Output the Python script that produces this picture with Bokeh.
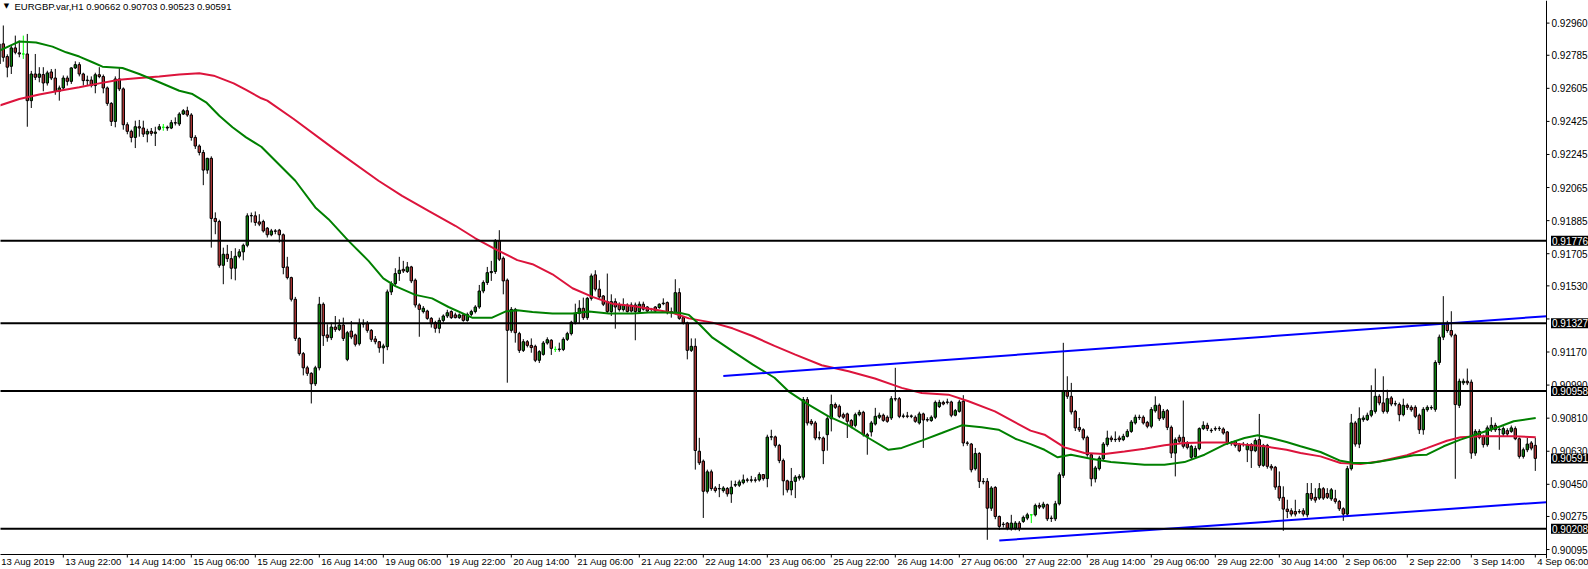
from bokeh.plotting import figure
from bokeh.models import Range1d, FixedTicker, Span, Label
from bokeh.embed import file_html
from bokeh.resources import INLINE

symbol_title = "EURGBP.var,H1  0.90662 0.90703 0.90523 0.90591"

open_ = [
0.92738,0.92847,0.92778,0.92725,0.92825,0.92798,0.92792,0.92792,0.92538,0.92683,
0.92665,0.92680,0.92634,0.92694,0.92661,0.92589,0.92607,0.92661,0.92643,0.92716,
0.92734,0.92683,0.92647,0.92650,0.92620,0.92679,0.92669,0.92607,0.92523,0.92425,
0.92656,0.92602,0.92407,0.92371,0.92338,0.92396,0.92389,0.92356,0.92371,0.92360,
0.92382,0.92393,0.92393,0.92389,0.92418,0.92411,0.92465,0.92483,0.92460,0.92338,
0.92291,0.92256,0.92160,0.92224,0.91897,0.91880,0.91642,0.91702,0.91678,0.91626,
0.91691,0.91715,0.91751,0.91911,0.91911,0.91878,0.91880,0.91844,0.91808,0.91829,
0.91833,0.91808,0.91633,0.91575,0.91457,0.91244,0.91161,0.91084,0.91054,0.90997,
0.91084,0.91430,0.91263,0.91248,0.91306,0.91293,0.91317,0.91130,0.91284,0.91263,
0.91215,0.91324,0.91324,0.91288,0.91241,0.91226,0.91193,0.91199,0.91497,0.91542,
0.91597,0.91620,0.91608,0.91633,0.91561,0.91426,0.91390,0.91393,0.91353,0.91330,
0.91299,0.91342,0.91366,0.91390,0.91372,0.91357,0.91372,0.91342,0.91375,0.91390,
0.91415,0.91502,0.91548,0.91602,0.91608,0.91775,0.91680,0.91561,0.91288,0.91402,
0.91270,0.91179,0.91226,0.91206,0.91201,0.91125,0.91157,0.91219,0.91234,0.91184,
0.91184,0.91184,0.91239,0.91270,0.91332,0.91379,0.91408,0.91357,0.91462,0.91590,
0.91512,0.91475,0.91444,0.91390,0.91444,0.91426,0.91401,0.91426,0.91426,0.91426,
0.91390,0.91430,0.91415,0.91403,0.91415,0.91412,0.91433,0.91439,0.91384,0.91384,
0.91493,0.91357,0.91328,0.91179,0.91201,0.90630,0.90576,0.90412,0.90518,0.90430,
0.90427,0.90416,0.90427,0.90398,0.90445,0.90445,0.90459,0.90474,0.90472,0.90474,
0.90474,0.90503,0.90481,0.90707,0.90708,0.90662,0.90579,0.90469,0.90420,0.90466,
0.90484,0.90489,0.90911,0.90793,0.90784,0.90702,0.90702,0.90720,0.90807,0.90884,
0.90875,0.90829,0.90833,0.90797,0.90771,0.90829,0.90842,0.90720,0.90735,0.90778,
0.90815,0.90826,0.90815,0.90811,0.90916,0.90916,0.90820,0.90822,0.90820,0.90815,
0.90784,0.90833,0.90802,0.90797,0.90815,0.90873,0.90896,0.90898,0.90898,0.90826,
0.90847,0.90902,0.90675,0.90669,0.90535,0.90618,0.90466,0.90466,0.90320,0.90433,
0.90275,0.90233,0.90239,0.90208,0.90211,0.90239,0.90248,0.90266,0.90284,0.90284,
0.90335,0.90326,0.90339,0.90266,0.90262,0.90344,0.90499,0.90956,0.90929,0.90847,
0.90760,0.90747,0.90706,0.90611,0.90480,0.90535,0.90589,0.90666,0.90702,0.90693,
0.90702,0.90693,0.90711,0.90738,0.90784,0.90815,0.90815,0.90787,0.90766,0.90850,
0.90880,0.90811,0.90851,0.90760,0.90620,0.90706,0.90706,0.90675,0.90597,0.90601,
0.90644,0.90753,0.90771,0.90742,0.90753,0.90753,0.90751,0.90735,0.90675,0.90684,
0.90666,0.90666,0.90638,0.90666,0.90633,0.90693,0.90553,0.90662,0.90548,0.90543,
0.90439,0.90379,0.90315,0.90306,0.90302,0.90302,0.90306,0.90284,0.90400,0.90379,
0.90375,0.90426,0.90400,0.90371,0.90371,0.90357,0.90317,0.90288,0.90535,0.90784,
0.90669,0.90802,0.90802,0.90826,0.90847,0.90929,0.90893,0.90847,0.90920,0.90887,
0.90884,0.90829,0.90880,0.90869,0.90869,0.90826,0.90747,0.90856,0.90866,0.90858,
0.91113,0.91251,0.91323,0.91287,0.91262,0.90880,0.91002,0.91011,0.91006,0.90620,
0.90738,0.90711,0.90666,0.90747,0.90771,0.90747,0.90724,0.90742,0.90738,0.90753,
0.90698,0.90602,0.90638,0.90675,0.90662]

high = [
0.92880,0.92947,0.92790,0.92840,0.92892,0.92865,0.92892,0.92901,0.92700,0.92792,
0.92720,0.92720,0.92701,0.92710,0.92711,0.92620,0.92675,0.92674,0.92720,0.92752,
0.92747,0.92690,0.92674,0.92670,0.92690,0.92720,0.92680,0.92615,0.92530,0.92670,
0.92716,0.92610,0.92420,0.92380,0.92429,0.92433,0.92429,0.92385,0.92389,0.92396,
0.92411,0.92411,0.92402,0.92433,0.92447,0.92475,0.92492,0.92505,0.92470,0.92350,
0.92300,0.92270,0.92227,0.92235,0.91930,0.91890,0.91738,0.91753,0.91720,0.91735,
0.91730,0.91760,0.91925,0.91929,0.91935,0.91920,0.91890,0.91850,0.91840,0.91839,
0.91840,0.91815,0.91688,0.91580,0.91470,0.91250,0.91170,0.91095,0.91060,0.91095,
0.91470,0.91440,0.91321,0.91330,0.91366,0.91348,0.91357,0.91285,0.91339,0.91270,
0.91352,0.91348,0.91339,0.91295,0.91257,0.91230,0.91215,0.91510,0.91555,0.91626,
0.91688,0.91666,0.91660,0.91639,0.91570,0.91435,0.91420,0.91400,0.91360,0.91340,
0.91357,0.91375,0.91400,0.91397,0.91384,0.91380,0.91380,0.91385,0.91400,0.91425,
0.91535,0.91560,0.91633,0.91666,0.91785,0.91833,0.91690,0.91570,0.91415,0.91410,
0.91280,0.91240,0.91235,0.91244,0.91210,0.91180,0.91230,0.91250,0.91240,0.91200,
0.91221,0.91250,0.91280,0.91340,0.91433,0.91452,0.91466,0.91470,0.91597,0.91615,
0.91561,0.91480,0.91597,0.91484,0.91462,0.91440,0.91462,0.91435,0.91440,0.91439,
0.91445,0.91444,0.91420,0.91410,0.91420,0.91435,0.91462,0.91445,0.91412,0.91566,
0.91517,0.91365,0.91335,0.91244,0.91244,0.90703,0.90585,0.90530,0.90530,0.90440,
0.90452,0.90440,0.90435,0.90470,0.90470,0.90475,0.90503,0.90485,0.90496,0.90489,
0.90515,0.90506,0.90720,0.90747,0.90715,0.90670,0.90590,0.90475,0.90539,0.90500,
0.90505,0.90925,0.90925,0.90805,0.90795,0.90738,0.90710,0.90820,0.90938,0.90895,
0.90885,0.90840,0.90840,0.90805,0.90840,0.90855,0.90850,0.90730,0.90795,0.90866,
0.90840,0.90835,0.90825,0.90930,0.91084,0.90925,0.90835,0.90844,0.90830,0.90825,
0.90845,0.90840,0.90815,0.90825,0.90906,0.90910,0.90905,0.90916,0.90905,0.90860,
0.90910,0.90935,0.90685,0.90675,0.90648,0.90625,0.90484,0.90484,0.90440,0.90440,
0.90280,0.90245,0.90245,0.90284,0.90250,0.90250,0.90280,0.90295,0.90286,0.90345,
0.90350,0.90355,0.90345,0.90280,0.90360,0.90515,0.91220,0.91038,0.91002,0.90855,
0.90811,0.90755,0.90715,0.90620,0.90550,0.90605,0.90680,0.90742,0.90715,0.90738,
0.90715,0.90725,0.90750,0.90800,0.90829,0.90829,0.90825,0.90795,0.90870,0.90929,
0.90890,0.90860,0.90860,0.90770,0.90705,0.90720,0.90906,0.90685,0.90665,0.90660,
0.90760,0.90793,0.90785,0.90755,0.90765,0.90766,0.90760,0.90740,0.90685,0.90690,
0.90675,0.90680,0.90675,0.90675,0.90700,0.90833,0.90670,0.90670,0.90560,0.90550,
0.90520,0.90439,0.90366,0.90320,0.90366,0.90315,0.90320,0.90457,0.90457,0.90429,
0.90457,0.90435,0.90429,0.90430,0.90420,0.90365,0.90325,0.90550,0.90833,0.90795,
0.90869,0.90825,0.90840,0.90989,0.91080,0.90940,0.91038,0.90965,0.90930,0.90905,
0.90895,0.90916,0.90890,0.90880,0.90880,0.90835,0.90870,0.90880,0.90880,0.91125,
0.91265,0.91474,0.91340,0.91392,0.91270,0.91025,0.91025,0.91080,0.91020,0.90750,
0.90750,0.90720,0.90770,0.90815,0.90785,0.90760,0.90765,0.90755,0.90770,0.90765,
0.90705,0.90650,0.90702,0.90685,0.90703]

low = [
0.92700,0.92750,0.92665,0.92683,0.92790,0.92774,0.92765,0.92396,0.92498,0.92650,
0.92638,0.92589,0.92620,0.92650,0.92570,0.92538,0.92595,0.92620,0.92629,0.92710,
0.92670,0.92620,0.92620,0.92610,0.92578,0.92660,0.92578,0.92510,0.92400,0.92393,
0.92590,0.92380,0.92355,0.92311,0.92280,0.92342,0.92340,0.92311,0.92347,0.92291,
0.92375,0.92374,0.92374,0.92383,0.92403,0.92400,0.92460,0.92450,0.92320,0.92275,
0.92240,0.92078,0.92140,0.91738,0.91811,0.91629,0.91539,0.91660,0.91566,0.91560,
0.91680,0.91669,0.91740,0.91875,0.91857,0.91855,0.91820,0.91793,0.91800,0.91811,
0.91766,0.91593,0.91565,0.91445,0.91230,0.91150,0.91043,0.91040,0.90890,0.90985,
0.91070,0.91203,0.91226,0.91235,0.91280,0.91284,0.91230,0.91120,0.91240,0.91200,
0.91205,0.91303,0.91275,0.91225,0.91212,0.91166,0.91106,0.91180,0.91480,0.91530,
0.91557,0.91600,0.91600,0.91545,0.91412,0.91253,0.91380,0.91345,0.91303,0.91275,
0.91272,0.91330,0.91355,0.91350,0.91353,0.91350,0.91335,0.91335,0.91365,0.91380,
0.91405,0.91490,0.91535,0.91557,0.91595,0.91665,0.91484,0.91003,0.91275,0.91221,
0.91165,0.91170,0.91195,0.91166,0.91115,0.91110,0.91150,0.91210,0.91154,0.91170,
0.91172,0.91175,0.91230,0.91260,0.91320,0.91324,0.91345,0.91345,0.91450,0.91500,
0.91460,0.91420,0.91380,0.91366,0.91297,0.91390,0.91390,0.91385,0.91385,0.91234,
0.91380,0.91395,0.91385,0.91390,0.91385,0.91405,0.91425,0.91375,0.91357,0.91375,
0.91345,0.91320,0.91130,0.91170,0.90530,0.90555,0.90267,0.90400,0.90415,0.90405,
0.90380,0.90405,0.90383,0.90349,0.90435,0.90435,0.90450,0.90460,0.90460,0.90460,
0.90465,0.90470,0.90434,0.90690,0.90650,0.90565,0.90390,0.90405,0.90390,0.90375,
0.90470,0.90475,0.90770,0.90770,0.90690,0.90690,0.90560,0.90633,0.90738,0.90860,
0.90810,0.90805,0.90702,0.90755,0.90760,0.90820,0.90710,0.90611,0.90710,0.90770,
0.90805,0.90790,0.90785,0.90800,0.90902,0.90810,0.90810,0.90810,0.90810,0.90785,
0.90775,0.90648,0.90790,0.90790,0.90805,0.90865,0.90880,0.90885,0.90815,0.90820,
0.90840,0.90657,0.90660,0.90515,0.90525,0.90430,0.90450,0.90148,0.90305,0.90260,
0.90202,0.90215,0.90200,0.90198,0.90200,0.90195,0.90240,0.90255,0.90239,0.90275,
0.90315,0.90315,0.90250,0.90245,0.90250,0.90335,0.90485,0.90915,0.90830,0.90740,
0.90735,0.90690,0.90600,0.90439,0.90460,0.90525,0.90580,0.90655,0.90680,0.90680,
0.90680,0.90685,0.90705,0.90730,0.90775,0.90800,0.90775,0.90755,0.90755,0.90840,
0.90795,0.90800,0.90745,0.90593,0.90493,0.90675,0.90645,0.90640,0.90585,0.90590,
0.90635,0.90745,0.90740,0.90730,0.90740,0.90740,0.90720,0.90665,0.90660,0.90650,
0.90625,0.90655,0.90571,0.90539,0.90625,0.90540,0.90545,0.90535,0.90525,0.90420,
0.90360,0.90197,0.90266,0.90275,0.90275,0.90290,0.90275,0.90270,0.90360,0.90350,
0.90365,0.90365,0.90370,0.90360,0.90345,0.90305,0.90251,0.90275,0.90525,0.90655,
0.90647,0.90790,0.90795,0.90815,0.90835,0.90880,0.90835,0.90835,0.90875,0.90875,
0.90793,0.90820,0.90855,0.90845,0.90810,0.90724,0.90720,0.90845,0.90855,0.90845,
0.91100,0.91235,0.91275,0.91250,0.90480,0.90865,0.90990,0.90990,0.90589,0.90605,
0.90695,0.90650,0.90655,0.90735,0.90735,0.90638,0.90710,0.90710,0.90730,0.90690,
0.90590,0.90590,0.90625,0.90635,0.90523]

close = [
0.92847,0.92774,0.92720,0.92825,0.92801,0.92792,0.92792,0.92538,0.92683,0.92665,
0.92683,0.92634,0.92689,0.92661,0.92589,0.92607,0.92661,0.92643,0.92716,0.92734,
0.92683,0.92647,0.92650,0.92620,0.92679,0.92669,0.92607,0.92523,0.92425,0.92656,
0.92602,0.92407,0.92371,0.92338,0.92396,0.92389,0.92356,0.92371,0.92360,0.92367,
0.92396,0.92393,0.92389,0.92418,0.92416,0.92465,0.92483,0.92460,0.92338,0.92291,
0.92256,0.92160,0.92224,0.91897,0.91880,0.91642,0.91702,0.91678,0.91626,0.91691,
0.91715,0.91751,0.91911,0.91913,0.91875,0.91866,0.91829,0.91808,0.91829,0.91827,
0.91808,0.91630,0.91575,0.91457,0.91244,0.91161,0.91084,0.91054,0.90997,0.91084,
0.91430,0.91259,0.91248,0.91306,0.91293,0.91317,0.91244,0.91275,0.91252,0.91212,
0.91324,0.91322,0.91288,0.91239,0.91226,0.91193,0.91203,0.91497,0.91542,0.91597,
0.91615,0.91611,0.91633,0.91557,0.91426,0.91402,0.91408,0.91353,0.91324,0.91299,
0.91342,0.91366,0.91384,0.91357,0.91357,0.91372,0.91342,0.91375,0.91390,0.91415,
0.91502,0.91548,0.91602,0.91608,0.91775,0.91675,0.91557,0.91288,0.91402,0.91275,
0.91179,0.91226,0.91206,0.91194,0.91125,0.91172,0.91219,0.91237,0.91190,0.91184,
0.91186,0.91239,0.91270,0.91332,0.91379,0.91408,0.91357,0.91462,0.91584,0.91512,
0.91470,0.91430,0.91390,0.91444,0.91415,0.91401,0.91426,0.91390,0.91393,0.91390,
0.91430,0.91403,0.91393,0.91401,0.91393,0.91430,0.91436,0.91384,0.91390,0.91493,
0.91353,0.91328,0.91179,0.91201,0.90634,0.90567,0.90412,0.90518,0.90427,0.90416,
0.90425,0.90430,0.90398,0.90434,0.90449,0.90463,0.90474,0.90472,0.90474,0.90472,
0.90503,0.90481,0.90707,0.90709,0.90662,0.90579,0.90469,0.90420,0.90466,0.90489,
0.90493,0.90911,0.90784,0.90780,0.90702,0.90704,0.90633,0.90807,0.90884,0.90869,
0.90820,0.90815,0.90793,0.90766,0.90829,0.90842,0.90720,0.90711,0.90784,0.90820,
0.90826,0.90798,0.90793,0.90916,0.90914,0.90820,0.90822,0.90820,0.90822,0.90793,
0.90833,0.90800,0.90800,0.90815,0.90896,0.90896,0.90887,0.90896,0.90826,0.90851,
0.90898,0.90675,0.90673,0.90529,0.90618,0.90466,0.90464,0.90320,0.90430,0.90275,
0.90221,0.90231,0.90211,0.90239,0.90239,0.90211,0.90270,0.90284,0.90284,0.90335,
0.90326,0.90342,0.90262,0.90264,0.90344,0.90502,0.90956,0.90929,0.90844,0.90757,
0.90747,0.90702,0.90611,0.90480,0.90539,0.90593,0.90669,0.90702,0.90693,0.90695,
0.90693,0.90711,0.90738,0.90789,0.90815,0.90813,0.90784,0.90766,0.90857,0.90880,
0.90807,0.90847,0.90760,0.90620,0.90693,0.90684,0.90657,0.90651,0.90657,0.90644,
0.90753,0.90771,0.90753,0.90744,0.90751,0.90755,0.90729,0.90675,0.90673,0.90662,
0.90633,0.90668,0.90666,0.90633,0.90688,0.90553,0.90662,0.90548,0.90539,0.90435,
0.90375,0.90315,0.90302,0.90288,0.90288,0.90300,0.90288,0.90400,0.90371,0.90364,
0.90426,0.90375,0.90379,0.90420,0.90357,0.90317,0.90288,0.90535,0.90784,0.90669,
0.90807,0.90811,0.90826,0.90851,0.90929,0.90893,0.90847,0.90916,0.90887,0.90889,
0.90829,0.90880,0.90869,0.90856,0.90820,0.90747,0.90858,0.90869,0.90868,0.91113,
0.91251,0.91323,0.91287,0.91262,0.90884,0.91011,0.91011,0.91002,0.90620,0.90738,
0.90706,0.90666,0.90757,0.90771,0.90747,0.90749,0.90753,0.90724,0.90757,0.90698,
0.90602,0.90638,0.90669,0.90647,0.90591]

# moving averages (bar index, price)
ma_fast_x = [0,3.3,5,9.2,13.3,16.7,20,23.3,25.8,30.8,35,40,45,48.3,51.7,55,58.3,61.7,65.5,74,79,82.3,87.3,92.3,96,99,104,108.2,112.3,118.2,123.2,126.5,129.5,133.3,138.3,143.3,147.4,152.4,158.3,163.3,170,172.4,175,178.3,183.3,188.3,193.8,197.3,202.3,207.3,212.3,217.3,222.3,225.6,230.6,235.6,240.6,245.6,249.8,254,257.8,261.3,264.6,267.9,272.9,277.9,286.3,291.3,296.3,301.3,306.3,311.3,314.6,317.9,321.8,325.3,330.3,335.3,338.6,342.8,347.8,353.6,356.9,361.1,365.3,370.3,375.3,378.6,384.1]
ma_fast_y = [0.92810,0.92843,0.92860,0.92854,0.92832,0.92801,0.92778,0.92747,0.92723,0.92716,0.92683,0.92638,0.92592,0.92574,0.92529,0.92456,0.92393,0.92338,0.92287,0.92102,0.91957,0.91893,0.91775,0.91666,0.91571,0.91529,0.91481,0.91462,0.91415,0.91357,0.91357,0.91390,0.91397,0.91388,0.91379,0.91379,0.91390,0.91379,0.91379,0.91386,0.91384,0.91372,0.91321,0.91248,0.91175,0.91103,0.91030,0.90956,0.90884,0.90820,0.90771,0.90702,0.90638,0.90648,0.90688,0.90729,0.90771,0.90760,0.90747,0.90698,0.90669,0.90638,0.90597,0.90611,0.90589,0.90571,0.90557,0.90557,0.90571,0.90611,0.90666,0.90702,0.90717,0.90702,0.90680,0.90657,0.90626,0.90578,0.90566,0.90566,0.90584,0.90608,0.90611,0.90657,0.90693,0.90729,0.90766,0.90793,0.90811]

ma_slow_x = [0,5,10,15,20,25,30,35,40,45,50,53.6,58.6,61.7,65.5,67,73.6,84,94.8,100.7,107.3,114,119,124,129.5,133.3,138.3,143.3,148.3,153.3,158.3,163.3,168.3,172.4,178.3,183.3,188.3,193.8,199,205.6,212.3,218.9,225.6,230.6,237.3,242.3,248.9,257.8,261.3,266.3,271.3,276.3,281.3,286.3,291.3,296.3,301.3,306.3,311.3,316.3,321.8,325.3,330.3,335.3,340.3,345.3,351.9,356.9,361.9,365.3,370.3,378.6,384.1]
ma_slow_y = [0.92511,0.92547,0.92571,0.92592,0.92611,0.92632,0.92652,0.92661,0.92669,0.92680,0.92687,0.92674,0.92632,0.92596,0.92551,0.92538,0.92438,0.92270,0.92102,0.92020,0.91938,0.91857,0.91789,0.91730,0.91670,0.91648,0.91593,0.91517,0.91470,0.91433,0.91421,0.91403,0.91384,0.91353,0.91330,0.91299,0.91257,0.91203,0.91156,0.91098,0.91065,0.91026,0.90975,0.90947,0.90938,0.90902,0.90847,0.90742,0.90720,0.90651,0.90620,0.90615,0.90629,0.90644,0.90662,0.90675,0.90678,0.90678,0.90666,0.90657,0.90638,0.90620,0.90602,0.90566,0.90560,0.90575,0.90608,0.90647,0.90687,0.90706,0.90711,0.90711,0.90706]

# trend lines (bar index, price) and horizontal levels
trend_upper_x = [181, 386.8]
trend_upper_y = [0.91039, 0.91365]
trend_lower_x = [250, 386.8]
trend_lower_y = [0.90144, 0.90353]
levels = [0.91776, 0.91327, 0.90958, 0.90208]

price_ticks = [0.92960, 0.92785, 0.92605, 0.92425, 0.92245, 0.92065, 0.91885, 0.91705,
               0.91530, 0.91350, 0.91170, 0.90990, 0.90810, 0.90630, 0.90450, 0.90275, 0.90095]
time_tick_bars = list(range(0, 385, 16))
time_labels = ["13 Aug 2019", "13 Aug 22:00", "14 Aug 14:00", "15 Aug 06:00", "15 Aug 22:00",
               "16 Aug 14:00", "19 Aug 06:00", "19 Aug 22:00", "20 Aug 14:00", "21 Aug 06:00",
               "21 Aug 22:00", "22 Aug 14:00", "23 Aug 06:00", "25 Aug 22:00", "26 Aug 14:00",
               "27 Aug 06:00", "27 Aug 22:00", "28 Aug 14:00", "29 Aug 06:00", "29 Aug 22:00",
               "30 Aug 14:00", "2 Sep 06:00", "2 Sep 22:00", "3 Sep 14:00", "4 Sep 06:00"]

FONT = "Liberation Sans"
FS = 9.5        # time labels and title
FS_P = 10       # price scale
BULL = "#0a7d0a"
BEAR = "#a83232"
DOJI = "#00ff00"

W, H = 1588, 569
PX_PER_BAR = 4.0
X0 = 0.3
X1 = X0 + W / PX_PER_BAR          # visible bar range; the price scale lives right of SCALE_X
SCALE_X = 386.8                   # bar coordinate of the price-scale line
PX_PER_PRICE = 18342.0
Y_TOP = 0.93083                   # price at the top of the frame
FRAME_H = 557                     # frame height in px (time labels below)
Y_BOT = Y_TOP - FRAME_H / PX_PER_PRICE
CHART_BOT = 0.90068               # price at the time-axis line

n = len(close)
bars = list(range(n))

p = figure(width=W, height=H, output_backend="svg", toolbar_location=None,
           x_range=Range1d(X0, X1), y_range=Range1d(Y_BOT, Y_TOP),
           y_axis_location=None, min_border_left=0, min_border_top=0,
           min_border_right=0, min_border_bottom=0)
p.grid.visible = False
p.outline_line_color = None
p.background_fill_color = "white"
p.border_fill_color = "white"

body_fill, edge_col = [], []
for o, c in zip(open_, close):
    if c > o:
        body_fill.append(BULL); edge_col.append("black")
    elif c < o:
        body_fill.append(BEAR); edge_col.append("black")
    else:
        body_fill.append(DOJI); edge_col.append(DOJI)

p.segment(x0=bars, y0=low, x1=bars, y1=high, line_color=edge_col, line_width=1)
p.vbar(x=bars, width=0.6, top=[max(o, c) for o, c in zip(open_, close)],
       bottom=[min(o, c) for o, c in zip(open_, close)],
       fill_color=body_fill, line_color=edge_col, line_width=1)

p.line(ma_slow_x, ma_slow_y, line_color="#dc143c", line_width=2)
p.line(ma_fast_x, ma_fast_y, line_color="#008000", line_width=2)
p.line(trend_upper_x, trend_upper_y, line_color="#0000ff", line_width=2)
p.line(trend_lower_x, trend_lower_y, line_color="#0000ff", line_width=2)
p.segment(x0=[X0 - 1] * len(levels), x1=[SCALE_X] * len(levels), y0=levels, y1=levels,
          line_color="black", line_width=2)

# ---- time-axis line and tick marks ----
p.segment(x0=[X0 - 1], x1=[SCALE_X], y0=[CHART_BOT], y1=[CHART_BOT], line_color="black", line_width=1)
p.segment(x0=time_tick_bars, x1=time_tick_bars, y0=[CHART_BOT] * len(time_tick_bars),
          y1=[CHART_BOT - 3 / PX_PER_PRICE] * len(time_tick_bars), line_color="black", line_width=1)

# ---- price scale on the right ----
p.add_layout(Span(location=SCALE_X, dimension="height", line_color="black", line_width=1))
p.segment(x0=[SCALE_X] * len(price_ticks), x1=[SCALE_X + 3 / PX_PER_BAR] * len(price_ticks),
          y0=price_ticks, y1=price_ticks, line_color="black", line_width=1)
boxed = levels + [close[-1]]
for v in price_ticks:
    # the terminal hides a scale label that sits almost entirely under a price box
    if min(abs(v - b) for b in boxed) * PX_PER_PRICE < 5:
        continue
    p.add_layout(Label(x=SCALE_X + 5 / PX_PER_BAR, y=v, text=f"{v:.5f}", text_font=FONT,
                       text_font_size=f"{FS_P}px", text_baseline="middle", text_align="left",
                       text_color="black"))
for v in boxed:
    p.add_layout(Label(x=SCALE_X + 4.5 / PX_PER_BAR, y=v, text=f"{v:.5f}", text_font=FONT,
                       text_font_size=f"{FS_P}px", text_baseline="middle", text_align="left",
                       text_color="white", background_fill_color="black", padding=1))

# ---- time labels: left-aligned just right of each tick ----
CW = {d: 0.556 for d in "0123456789"}
CW.update({" ": 0.278, ":": 0.278, "A": 0.667, "S": 0.667, "u": 0.556, "g": 0.556,
           "e": 0.556, "p": 0.556})
def text_w(s):
    return sum(CW.get(ch, 0.556) for ch in s) * FS

label_pos = [round(b + (2 + text_w(t) / 2) / PX_PER_BAR, 3) for b, t in zip(time_tick_bars, time_labels)]
xa = p.xaxis[0]
xa.ticker = FixedTicker(ticks=label_pos)
xa.major_label_overrides = {k: t for k, t in zip(label_pos, time_labels)}
xa.axis_line_color = None
xa.major_tick_line_color = None
xa.minor_tick_line_color = None
xa.major_tick_in = 0
xa.major_tick_out = 0
xa.major_label_standoff = -3
xa.major_label_text_font = FONT
xa.major_label_text_font_size = f"{FS}px"
xa.major_label_text_color = "black"

p.add_layout(Label(x=1.8, y=0.93052, text="\u25bc", text_font="DejaVu Sans",
                   text_font_size="7px", text_baseline="middle", text_align="center",
                   text_color="black"))
p.add_layout(Label(x=3.8, y=0.93050, text=symbol_title, text_font=FONT,
                   text_font_size=f"{FS}px", text_baseline="middle", text_color="black"))

open("out.html", "w").write(file_html(p, INLINE))
